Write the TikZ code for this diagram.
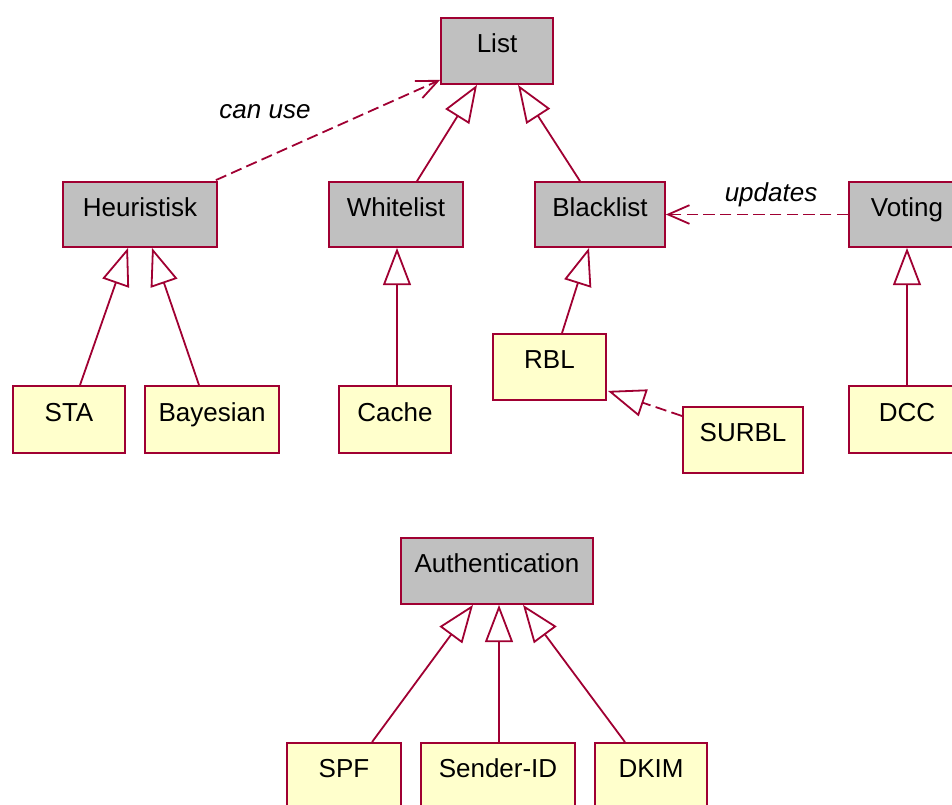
\documentclass[tikz,border=0pt]{standalone}
\usepackage{fontspec}
\setmainfont{Liberation Sans}
\usetikzlibrary{arrows.meta,calc}
\definecolor{umlline}{RGB}{160,0,50}
\definecolor{absfill}{RGB}{192,192,192}
\definecolor{concfill}{RGB}{255,255,204}
\tikzset{
  cls/.style 2 args={draw=umlline, line width=1.35pt, rectangle, inner sep=0pt,
    minimum width=#1*0.75pt, minimum height=#2*0.75pt,
    font=\fontsize{19.5pt}{23pt}\selectfont, text height=14pt, text depth=11.4pt},
  abstract/.style={fill=absfill},
  concrete/.style={fill=concfill},
  inherit/.style={draw=umlline, line width=1.35pt,
    -{Triangle[open, length=28pt, width=21pt, fill=white]}},
  realize/.style={inherit, dash pattern=on 8.5pt off 4pt},
  depend/.style={draw=umlline, line width=1.35pt, dash pattern=on 8.5pt off 4pt,
    -{Straight Barb[length=16pt, width=14pt]}},
  note/.style={font=\itshape\fontsize{19.5pt}{23pt}\selectfont, anchor=base, inner sep=0pt}
}
\begin{document}
\begin{tikzpicture}[x=0.75pt,y=-0.75pt]
\useasboundingbox (0,0) rectangle (952,804);
\clip (0,0) rectangle (952,804);

% abstract classes
\node[cls={112}{66}, abstract] (list) at (497,51) {List};
\node[cls={154}{65}, abstract] (heur) at (140,214.5) {Heuristisk};
\node[cls={134}{65}, abstract] (white) at (396,214.5) {Whitelist};
\node[cls={130}{65}, abstract] (black) at (600,214.5) {Blacklist};
\node[cls={116}{65}, abstract] (voting) at (907,214.5) {Voting};
\node[cls={192}{66}, abstract] (auth) at (497,571) {Authentication};

% concrete classes
\node[cls={112}{67}, concrete] (sta) at (69,419.5) {STA};
\node[cls={134}{67}, concrete] (bayes) at (212,419.5) {Bayesian};
\node[cls={112}{67}, concrete] (cache) at (395,419.5) {Cache};
\node[cls={113}{66}, concrete] (rbl) at (549.5,367) {RBL};
\node[cls={120}{66}, concrete] (surbl) at (743,440) {SURBL};
\node[cls={116}{67}, concrete] (dcc) at (907,419.5) {DCC};
\node[cls={114}{66}, concrete] (spf) at (344,776) {SPF};
\node[cls={154}{66}, concrete] (sid) at (498,776) {Sender-ID};
\node[cls={112}{66}, concrete] (dkim) at (651,776) {DKIM};

% generalisations
\draw[inherit] ($(white.north)+(21,0)$) -- ($(list.south)+(-20,0)$);
\draw[inherit] ($(black.north)+(-20,0)$) -- ($(list.south)+(21,0)$);
\draw[inherit] ($(sta.north)+(11,0)$) -- ($(heur.south)+(-12,0)$);
\draw[inherit] ($(bayes.north)+(-13,0)$) -- ($(heur.south)+(12,0)$);
\draw[inherit] ($(cache.north)+(2,0)$) -- ($(white.south)+(1,0)$);
\draw[inherit] ($(rbl.north)+(12.5,0)$) -- ($(black.south)+(-11,0)$);
\draw[inherit] (dcc.north) -- (voting.south);
\draw[inherit] ($(spf.north)+(28,0)$) -- ($(auth.south)+(-24,0)$);
\draw[inherit] ($(sid.north)+(1,0)$) -- ($(auth.south)+(2,0)$);
\draw[inherit] ($(dkim.north)+(-26,0)$) -- ($(auth.south)+(26,0)$);

% realisation
\draw[realize] ($(surbl.west)+(0,-24)$) -- ($(rbl.south east)+(1,-10)$);

% dependencies
\draw[depend] ($(heur.north east)+(-2,-1)$) -- ($(list.south west)+(0,-5)$);
\draw[depend] (voting.west) -- (black.east);

% dependency labels
\node[note] (canuse) at (265,118) {can use};
\node[note] (updates) at (771,201) {updates};
\end{tikzpicture}
\end{document}
